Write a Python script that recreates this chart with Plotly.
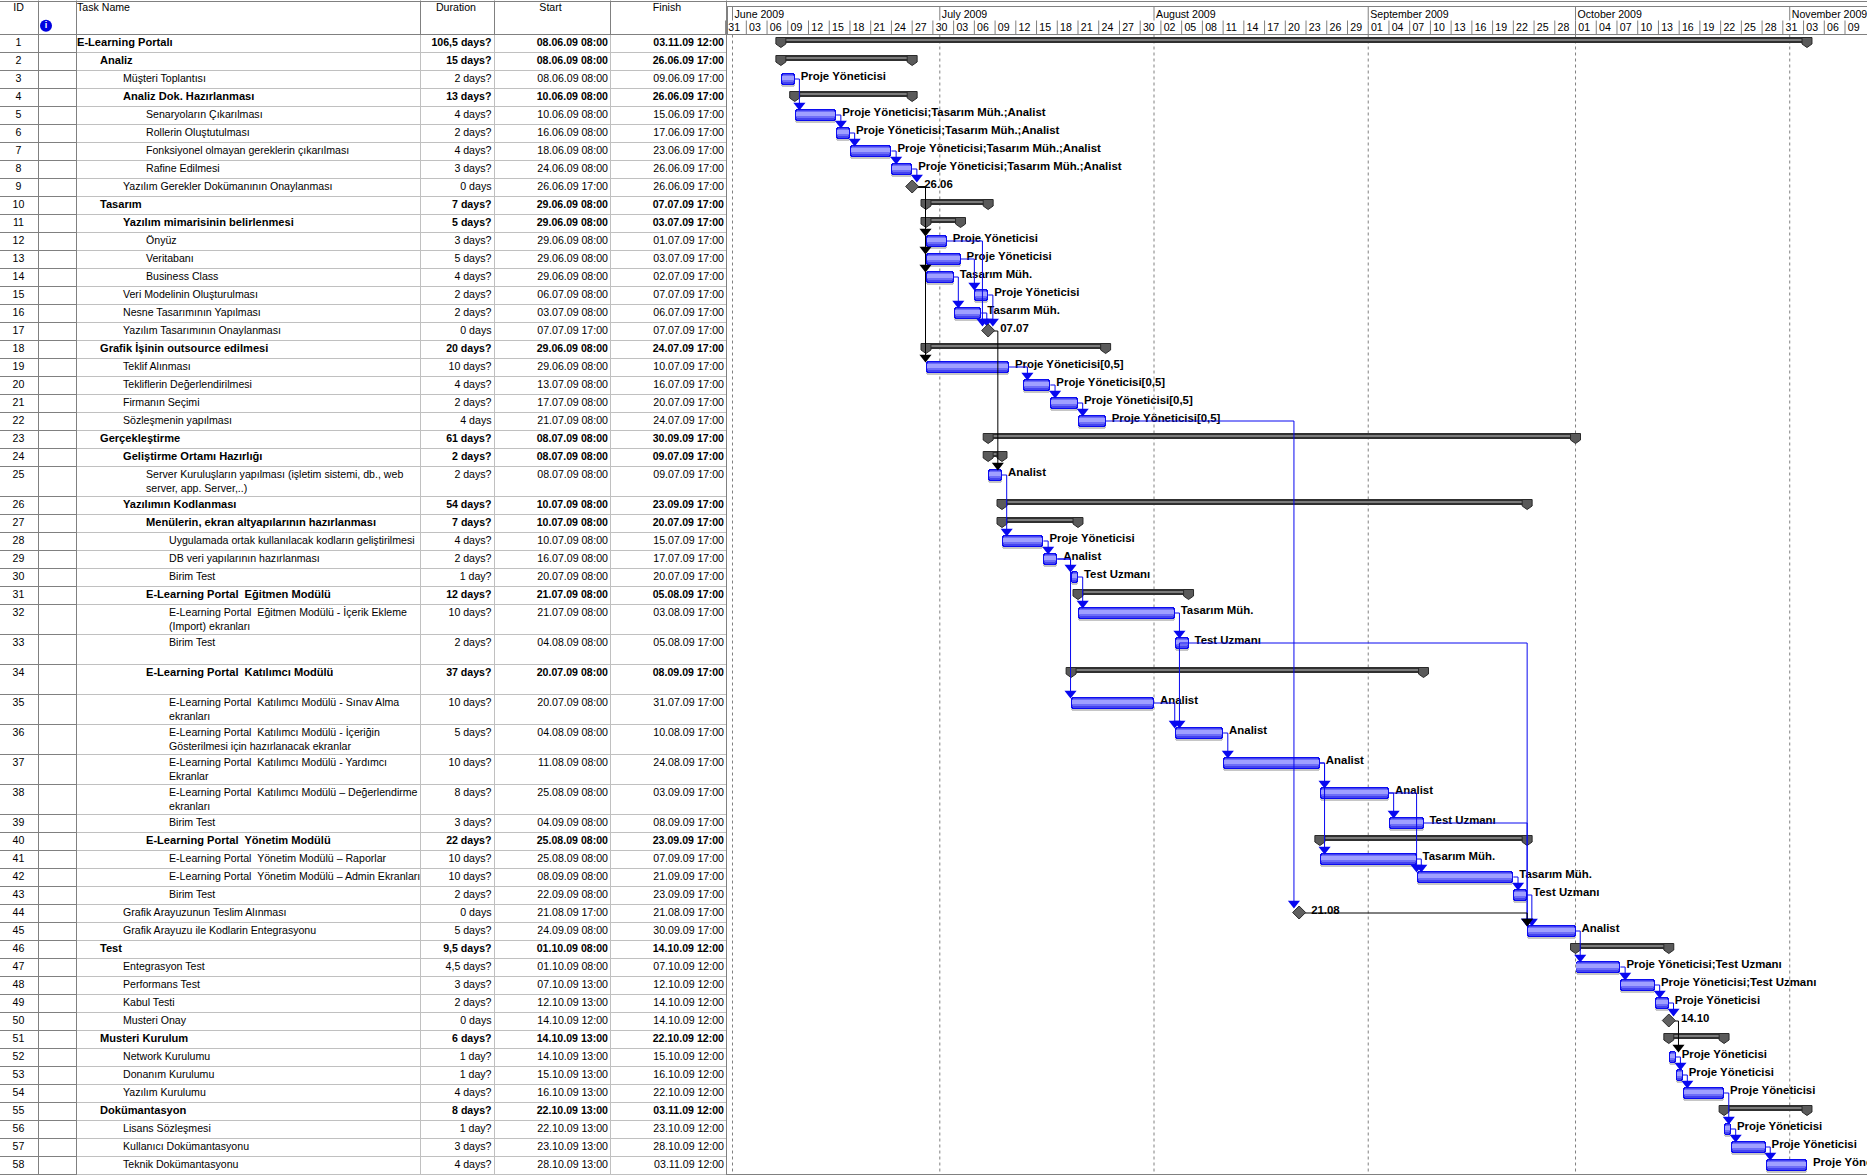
from datetime import datetime, timedelta

import numpy as np
import pandas as pd
import plotly.graph_objects as go

# ---------------------------------------------------------------- project data
task_names = [
    "E-Learning Portalı", "Analiz", "Müşteri Toplantısı", "Analiz Dok. Hazırlanması",
    "Senaryoların Çıkarılması", "Rollerin Oluştutulması", "Fonksiyonel olmayan gereklerin çıkarılması",
    "Rafine Edilmesi", "Yazılım Gerekler Dokümanının Onaylanması", "Tasarım",
    "Yazılım mimarisinin belirlenmesi", "Önyüz", "Veritabanı", "Business Class",
    "Veri Modelinin Oluşturulması", "Nesne Tasarımının Yapılması", "Yazılım Tasarımının Onaylanması",
    "Grafik İşinin outsource edilmesi", "Teklif Alınması", "Tekliflerin Değerlendirilmesi",
    "Firmanın Seçimi", "Sözleşmenin yapılması", "Gerçekleştirme", "Geliştirme Ortamı Hazırlığı",
    "Server Kuruluşların yapılması (işletim sistemi, db., web\nserver, app. Server,..)",
    "Yazılımın Kodlanması", "Menülerin, ekran altyapılarının hazırlanması",
    "Uygulamada ortak kullanılacak kodların geliştirilmesi", "DB veri yapılarının hazırlanması",
    "Birim Test", "E-Learning Portal\u00a0 Eğitmen Modülü",
    "E-Learning Portal\u00a0 Eğitmen Modülü - İçerik Ekleme\n(Import) ekranları", "Birim Test",
    "E-Learning Portal\u00a0 Katılımcı Modülü",
    "E-Learning Portal\u00a0 Katılımcı Modülü - Sınav Alma\nekranları",
    "E-Learning Portal\u00a0 Katılımcı Modülü - İçeriğin\nGösterilmesi için hazırlanacak ekranlar",
    "E-Learning Portal\u00a0 Katılımcı Modülü - Yardımcı\nEkranlar",
    "E-Learning Portal\u00a0 Katılımcı Modülü – Değerlendirme\nekranları", "Birim Test",
    "E-Learning Portal\u00a0 Yönetim Modülü", "E-Learning Portal\u00a0 Yönetim Modülü – Raporlar",
    "E-Learning Portal\u00a0 Yönetim Modülü – Admin Ekranları", "Birim Test",
    "Grafik Arayuzunun Teslim Alınması", "Grafik Arayuzu ile Kodlarin Entegrasyonu", "Test",
    "Entegrasyon Test", "Performans Test", "Kabul Testi", "Musteri Onay", "Musteri Kurulum",
    "Network Kurulumu", "Donanım Kurulumu", "Yazılım Kurulumu", "Dokümantasyon",
    "Lisans Sözleşmesi", "Kullanıcı Dokümantasyonu", "Teknik Dokümantasyonu",
]
outline_levels = [
    0, 1, 2, 2, 3, 3, 3, 3, 2, 1, 2, 3, 3, 3, 2, 2, 2, 1, 2, 2, 2, 2, 1, 2, 3, 2, 3, 4, 4, 4,
    3, 4, 4, 3, 4, 4, 4, 4, 4, 3, 4, 4, 4, 2, 2, 1, 2, 2, 2, 2, 1, 2, 2, 2, 1, 2, 2, 2,
]
durations = [
    "106,5 days?", "15 days?", "2 days?", "13 days?", "4 days?", "2 days?", "4 days?", "3 days?",
    "0 days", "7 days?", "5 days?", "3 days?", "5 days?", "4 days?", "2 days?", "2 days?", "0 days",
    "20 days?", "10 days?", "4 days?", "2 days?", "4 days", "61 days?", "2 days?", "2 days?",
    "54 days?", "7 days?", "4 days?", "2 days?", "1 day?", "12 days?", "10 days?", "2 days?",
    "37 days?", "10 days?", "5 days?", "10 days?", "8 days?", "3 days?", "22 days?", "10 days?",
    "10 days?", "2 days?", "0 days", "5 days?", "9,5 days?", "4,5 days?", "3 days?", "2 days?",
    "0 days", "6 days?", "1 day?", "1 day?", "4 days?", "8 days?", "1 day?", "3 days?", "4 days?",
]
starts = [
    "08.06.09 08:00", "08.06.09 08:00", "08.06.09 08:00", "10.06.09 08:00", "10.06.09 08:00",
    "16.06.09 08:00", "18.06.09 08:00", "24.06.09 08:00", "26.06.09 17:00", "29.06.09 08:00",
    "29.06.09 08:00", "29.06.09 08:00", "29.06.09 08:00", "29.06.09 08:00", "06.07.09 08:00",
    "03.07.09 08:00", "07.07.09 17:00", "29.06.09 08:00", "29.06.09 08:00", "13.07.09 08:00",
    "17.07.09 08:00", "21.07.09 08:00", "08.07.09 08:00", "08.07.09 08:00", "08.07.09 08:00",
    "10.07.09 08:00", "10.07.09 08:00", "10.07.09 08:00", "16.07.09 08:00", "20.07.09 08:00",
    "21.07.09 08:00", "21.07.09 08:00", "04.08.09 08:00", "20.07.09 08:00", "20.07.09 08:00",
    "04.08.09 08:00", "11.08.09 08:00", "25.08.09 08:00", "04.09.09 08:00", "25.08.09 08:00",
    "25.08.09 08:00", "08.09.09 08:00", "22.09.09 08:00", "21.08.09 17:00", "24.09.09 08:00",
    "01.10.09 08:00", "01.10.09 08:00", "07.10.09 13:00", "12.10.09 13:00", "14.10.09 12:00",
    "14.10.09 13:00", "14.10.09 13:00", "15.10.09 13:00", "16.10.09 13:00", "22.10.09 13:00",
    "22.10.09 13:00", "23.10.09 13:00", "28.10.09 13:00",
]
finishes = [
    "03.11.09 12:00", "26.06.09 17:00", "09.06.09 17:00", "26.06.09 17:00", "15.06.09 17:00",
    "17.06.09 17:00", "23.06.09 17:00", "26.06.09 17:00", "26.06.09 17:00", "07.07.09 17:00",
    "03.07.09 17:00", "01.07.09 17:00", "03.07.09 17:00", "02.07.09 17:00", "07.07.09 17:00",
    "06.07.09 17:00", "07.07.09 17:00", "24.07.09 17:00", "10.07.09 17:00", "16.07.09 17:00",
    "20.07.09 17:00", "24.07.09 17:00", "30.09.09 17:00", "09.07.09 17:00", "09.07.09 17:00",
    "23.09.09 17:00", "20.07.09 17:00", "15.07.09 17:00", "17.07.09 17:00", "20.07.09 17:00",
    "05.08.09 17:00", "03.08.09 17:00", "05.08.09 17:00", "08.09.09 17:00", "31.07.09 17:00",
    "10.08.09 17:00", "24.08.09 17:00", "03.09.09 17:00", "08.09.09 17:00", "23.09.09 17:00",
    "07.09.09 17:00", "21.09.09 17:00", "23.09.09 17:00", "21.08.09 17:00", "30.09.09 17:00",
    "14.10.09 12:00", "07.10.09 12:00", "12.10.09 12:00", "14.10.09 12:00", "14.10.09 12:00",
    "22.10.09 12:00", "15.10.09 12:00", "16.10.09 12:00", "22.10.09 12:00", "03.11.09 12:00",
    "23.10.09 12:00", "28.10.09 12:00", "03.11.09 12:00",
]
PY, TM, AN, TU = "Proje Yöneticisi", "Tasarım Müh.", "Analist", "Test Uzmanı"
TEAM = f"{PY};{TM};{AN}"
PY_HALF = f"{PY}[0,5]"
PY_TEST = f"{PY};{TU}"
resources = {
    3: PY, 5: TEAM, 6: TEAM, 7: TEAM, 8: TEAM, 12: PY, 13: PY, 14: TM, 15: PY, 16: TM,
    19: PY_HALF, 20: PY_HALF, 21: PY_HALF, 22: PY_HALF, 25: AN, 28: PY, 29: AN, 30: TU,
    32: TM, 33: TU, 35: AN, 36: AN, 37: AN, 38: AN, 39: TU, 41: TM, 42: TM, 43: TU, 45: AN,
    47: PY_TEST, 48: PY_TEST, 49: PY, 52: PY, 53: PY, 54: PY, 56: PY, 57: PY, 58: PY,
}
summary_ids = [1, 2, 4, 10, 11, 18, 23, 24, 26, 27, 31, 34, 40, 46, 51, 55]
milestone_ids = [9, 17, 44, 50]
milestone_labels = ["26.06", "07.07", "21.08", "14.10"]
link_from = [3, 5, 6, 7, 8, 9, 9, 9, 9, 12, 13, 14, 15, 16, 17, 19, 20, 21, 22, 25, 28, 29, 29, 30,
             32, 33, 33, 35, 36, 37, 37, 38, 38, 39, 41, 42, 43, 44, 45, 47, 48, 49, 50, 52,
             53, 54, 56, 57]
link_to = [5, 6, 7, 8, 9, 12, 13, 14, 19, 17, 15, 16, 17, 17, 25, 20, 21, 22, 44, 28, 29, 30, 35, 32,
           33, 36, 45, 36, 37, 38, 41, 39, 42, 45, 42, 43, 45, 45, 47, 48, 49, 50, 52, 53,
           54, 56, 57, 58]
month_starts = ["2009-06-01", "2009-07-01", "2009-08-01", "2009-09-01", "2009-10-01", "2009-11-01"]
month_labels = ["June 2009", "July 2009", "August 2009", "September 2009", "October 2009", "November 2009"]

# ---------------------------------------------------------------- page geometry and style
WIDTH, HEIGHT = 1867, 1175
ORIGIN_PX, PX_PER_DAY = 732.5, 6.91
HEADER_Y = 34.5
ROW, TALL_ROW = 18, 30
TALL_ROWS = {25, 32, 33, 34, 35, 36, 37, 38}
COL_LINES = [38.5, 76.5, 420.5, 494.5, 610.5, 726.5]
NAME_X, INDENT = 77, 23
FONT = "Liberation Sans"
TABLE_SIZE, BOLD_NAME_SIZE, LABEL_SIZE = 10.6, 11.1, 11.4
TEXT_DROP = 9
GRID_LIGHT, GRID_DARK = "#c0c0c0", "#808080"
LINK_BLUE, LINK_BLACK = "#0808f0", "#000000"
DEFAULT_DROP = 0.68
# Where a connector's vertical run sits relative to its successor's start, in days.
drop_overrides = {
    (9, 12): -0.07, (9, 13): -0.07, (9, 14): -0.07, (9, 19): -0.07, (13, 15): 0, (12, 17): -0.83,
    (16, 17): -0.2, (17, 25): 1.4, (22, 44): -0.75, (29, 30): -0.08, (29, 35): -0.08, (35, 36): 0,
    (38, 42): 0, (33, 45): 0, (39, 45): 0, (44, 45): 0, (50, 52): 1.4,
}
black_sources = set(milestone_ids)

heights = [TALL_ROW if i in TALL_ROWS else ROW for i in range(1, len(task_names) + 1)]
row_top = HEADER_Y + np.concatenate([[0], np.cumsum(heights)[:-1]])
row_bottom = row_top + np.array(heights)


def top(task_id):
    return float(row_top[task_id - 1])


def timeline_pos(stamp):
    """Working hours fill the whole day on the timescale: 08-12 and 13-17 span 00-24."""
    moment = datetime.strptime(stamp, "%d.%m.%y %H:%M")
    fraction = np.interp(moment.hour + moment.minute / 60, [8, 12, 13, 17], [0, 0.5, 0.5, 1])
    return moment.replace(hour=0, minute=0) + timedelta(days=float(fraction))


def pos_start(task_id):
    return timeline_pos(starts[task_id - 1])


def pos_finish(task_id):
    return timeline_pos(finishes[task_id - 1])


june_first = datetime(2009, 6, 1)
x_range = [june_first - timedelta(days=ORIGIN_PX / PX_PER_DAY),
           june_first + timedelta(days=(WIDTH - ORIGIN_PX) / PX_PER_DAY)]

fig = go.Figure()


def add_band(ids, y_shift, height, color, inset_days=0.0, radius=3):
    """One horizontal band of a bar, placed on the date axis from its task's start and finish."""
    base = [pos_start(i) + timedelta(days=inset_days) for i in ids]
    length = [((pos_finish(i) - pos_start(i)).total_seconds() - inset_days * 172800) * 1000 for i in ids]
    fig.add_trace(go.Bar(
        orientation="h", base=base, x=length, y=[top(i) + y_shift for i in ids], width=height,
        marker=dict(color=color, line_width=0, cornerradius=min(radius, height / 2)),
        hoverinfo="skip", xaxis="x", yaxis="y",
    ))


def add_lines(xs, ys, color, xaxis="x", width=1):
    fig.add_trace(go.Scatter(
        x=xs, y=ys, mode="lines", line=dict(color=color, width=width),
        hoverinfo="skip", xaxis=xaxis, yaxis="y", connectgaps=False,
    ))


def add_text(xs, ys, labels, position, size, bold=False, color="#000000", xaxis="x2"):
    fig.add_trace(go.Scatter(
        x=xs, y=ys, text=labels, mode="text", textposition=position,
        textfont=dict(family=FONT, size=size, color=color, weight="bold" if bold else "normal"),
        hoverinfo="skip", xaxis=xaxis, yaxis="y",
    ))


# ---------------------------------------------------------------- summary bars and brackets
add_band(summary_ids, 5.5, 6, "#303030", radius=0)
add_band(summary_ids, 5.2, 2.4, "#7c7c7c", radius=0)

cap_half = timedelta(days=0.72)
cap_x, cap_y = [], []
for i in summary_ids:
    for c in (pos_start(i), pos_finish(i)):
        t = top(i)
        cap_x += [c - cap_half, c + cap_half, c + cap_half, c, c - cap_half, c - cap_half, None]
        cap_y += [t + 3, t + 3, t + 9.5, t + 13, t + 9.5, t + 3, None]
fig.add_trace(go.Scatter(
    x=cap_x, y=cap_y, mode="lines", fill="toself", fillcolor="#5a5a5a",
    line=dict(color="#2a2a2a", width=1), hoverinfo="skip", xaxis="x", yaxis="y",
))

# ---------------------------------------------------------------- task bars
task_ids = sorted(resources)
add_band(task_ids, 10.5, 12, "#c6c6c6")
add_band(task_ids, 8.5, 12, "#0c0cf0")
add_band(task_ids, 8.5, 10, "#4444f0", 0.14)
add_band(task_ids, 8.0, 7, "#6e6ef8", 0.14)
add_band(task_ids, 7.5, 3.5, "#a0a0ff", 0.14)

# ---------------------------------------------------------------- resource and milestone labels
label_gap = timedelta(days=0.87)
add_text([pos_finish(i) + label_gap for i in task_ids], [top(i) + 7 for i in task_ids],
         [resources[i] for i in task_ids], "middle right", LABEL_SIZE, bold=True, xaxis="x")
add_text([pos_finish(i) + timedelta(days=1.75) for i in milestone_ids],
         [top(i) + 7 for i in milestone_ids], milestone_labels, "middle right",
         LABEL_SIZE, bold=True, xaxis="x")

# ---------------------------------------------------------------- dependency links
for color, wanted in ((LINK_BLUE, False), (LINK_BLACK, True)):
    lx, ly, ax, ay = [], [], [], []
    for a, b in zip(link_from, link_to):
        if (a in black_sources) != wanted:
            continue
        drop = pos_start(b) + timedelta(days=drop_overrides.get((a, b), DEFAULT_DROP))
        leave_y = top(a) + 8.5
        arrow_y = top(b) - 1.2
        lx += [pos_finish(a), drop, drop, None]
        ly += [leave_y, leave_y, arrow_y, None]
        ax.append(drop)
        ay.append(arrow_y)
    add_lines(lx, ly, color, width=1)
    fig.add_trace(go.Scatter(
        x=ax, y=ay, mode="markers",
        marker=dict(symbol="triangle-down", size=10.5, color=color, line_width=0),
        hoverinfo="skip", xaxis="x", yaxis="y",
    ))

# ---------------------------------------------------------------- milestones
fig.add_trace(go.Scatter(
    x=[pos_finish(i) for i in milestone_ids], y=[top(i) + 8 for i in milestone_ids], mode="markers",
    marker=dict(symbol="diamond", size=10, color="#606060", line=dict(color="#2a2a2a", width=1)),
    hoverinfo="skip", xaxis="x", yaxis="y",
))

# ---------------------------------------------------------------- timescale header
tick_dates = pd.date_range("2009-05-31", "2009-11-09", freq="3D")
add_lines([d for t in tick_dates for d in (t, t, None)],
          [v for _ in tick_dates for v in (20.5, HEADER_Y, None)], GRID_DARK)
month_dates = pd.to_datetime(month_starts)
add_lines([d for t in month_dates for d in (t, t, None)],
          [v for _ in month_dates for v in (6.5, 20.5, None)], GRID_DARK)
add_text([d + timedelta(days=0.4) for d in tick_dates], [28] * len(tick_dates),
         [d.strftime("%d") for d in tick_dates], "middle right", TABLE_SIZE, xaxis="x")
add_text([d + timedelta(days=0.3) for d in month_dates], [15] * len(month_dates),
         month_labels, "middle right", TABLE_SIZE, xaxis="x")

# ---------------------------------------------------------------- table rulings
row_edges = row_bottom
add_lines([v for _ in row_edges for v in (COL_LINES[1], COL_LINES[5], None)],
          [v for e in row_edges for v in (e, e, None)], GRID_LIGHT, xaxis="x2")
add_lines([v for c in COL_LINES[2:5] for v in (c, c, None)],
          [v for _ in COL_LINES[2:5] for v in (HEADER_Y, HEIGHT, None)], GRID_LIGHT, xaxis="x2")
add_lines([v for _ in row_edges for v in (0, COL_LINES[1], None)],
          [v for e in row_edges for v in (e, e, None)], GRID_DARK, xaxis="x2")
add_lines([v for c in COL_LINES[:2] for v in (c, c, None)],
          [v for _ in COL_LINES[:2] for v in (0.5, HEIGHT, None)], GRID_DARK, xaxis="x2")
add_lines([v for c in COL_LINES[2:] for v in (c, c, None)],
          [v for c in COL_LINES[2:] for v in (0.5, HEIGHT if c == COL_LINES[5] else HEADER_Y, None)],
          GRID_DARK, xaxis="x2")
add_lines([0, WIDTH, None, 0, WIDTH, None, COL_LINES[5], WIDTH, None, COL_LINES[5], WIDTH],
          [HEADER_Y, HEADER_Y, None, 1.5, 1.5, None, 6.5, 6.5, None, 1174.5, 1174.5],
          GRID_DARK, xaxis="x2")
add_lines([727.5, 727.5], [6.5, HEADER_Y], GRID_DARK, xaxis="x2")

# ---------------------------------------------------------------- table text
add_text([18.5, 456, 550.5, 667], [8.5] * 4,
         ["ID", "Duration", "Start", "Finish"], "middle center", TABLE_SIZE)
add_text([NAME_X], [8.5], ["Task Name"], "middle right", TABLE_SIZE)
fig.add_trace(go.Scatter(
    x=[46], y=[25.7], mode="markers+text", text=["i"], textposition="middle center",
    textfont=dict(family=FONT, size=9, color="#ffffff", weight="bold"),
    marker=dict(symbol="circle", size=12, color="#0000e0"),
    hoverinfo="skip", xaxis="x2", yaxis="y",
))

all_ids = list(range(1, len(task_names) + 1))
for bold in (False, True):
    ids = [i for i in all_ids if (i in summary_ids) == bold]
    add_text([491.5] * len(ids), [top(i) + TEXT_DROP for i in ids],
             [durations[i - 1] for i in ids], "middle left", TABLE_SIZE, bold)
    add_text([608] * len(ids), [top(i) + TEXT_DROP for i in ids],
             [starts[i - 1] for i in ids], "middle left", TABLE_SIZE, bold)
    add_text([724] * len(ids), [top(i) + TEXT_DROP for i in ids],
             [finishes[i - 1] for i in ids], "middle left", TABLE_SIZE, bold)
    nx, ny, nt = [], [], []
    for i in ids:
        for n, line in enumerate(task_names[i - 1].split("\n")):
            nx.append(NAME_X + INDENT * outline_levels[i - 1])
            ny.append(top(i) + TEXT_DROP + 14 * n)
            nt.append(line)
    add_text(nx, ny, nt, "middle right", BOLD_NAME_SIZE if bold else TABLE_SIZE, bold)
add_text([18.5] * len(all_ids), [top(i) + TEXT_DROP for i in all_ids],
         [str(i) for i in all_ids], "middle center", TABLE_SIZE)

# ---------------------------------------------------------------- layout
fig.update_layout(
    width=WIDTH, height=HEIGHT, margin=dict(l=0, r=0, t=0, b=0, pad=0),
    paper_bgcolor="#ffffff", plot_bgcolor="#ffffff", showlegend=False, barmode="overlay",
    hovermode=False, bargap=0,
    xaxis=dict(type="date", range=x_range, visible=False, fixedrange=True),
    xaxis2=dict(type="linear", range=[0, WIDTH], visible=False, overlaying="x", anchor="y", fixedrange=True),
    yaxis=dict(type="linear", range=[HEIGHT, 0], visible=False, fixedrange=True),
    shapes=[
        dict(type="line", xref="x", yref="y", x0=d, x1=d, y0=HEADER_Y, y1=1174,
             line=dict(color="#808080", width=1, dash="dot"), layer="below")
        for d in month_starts
    ],
)
fig.write_html("out.html", config=dict(displayModeBar=False))
